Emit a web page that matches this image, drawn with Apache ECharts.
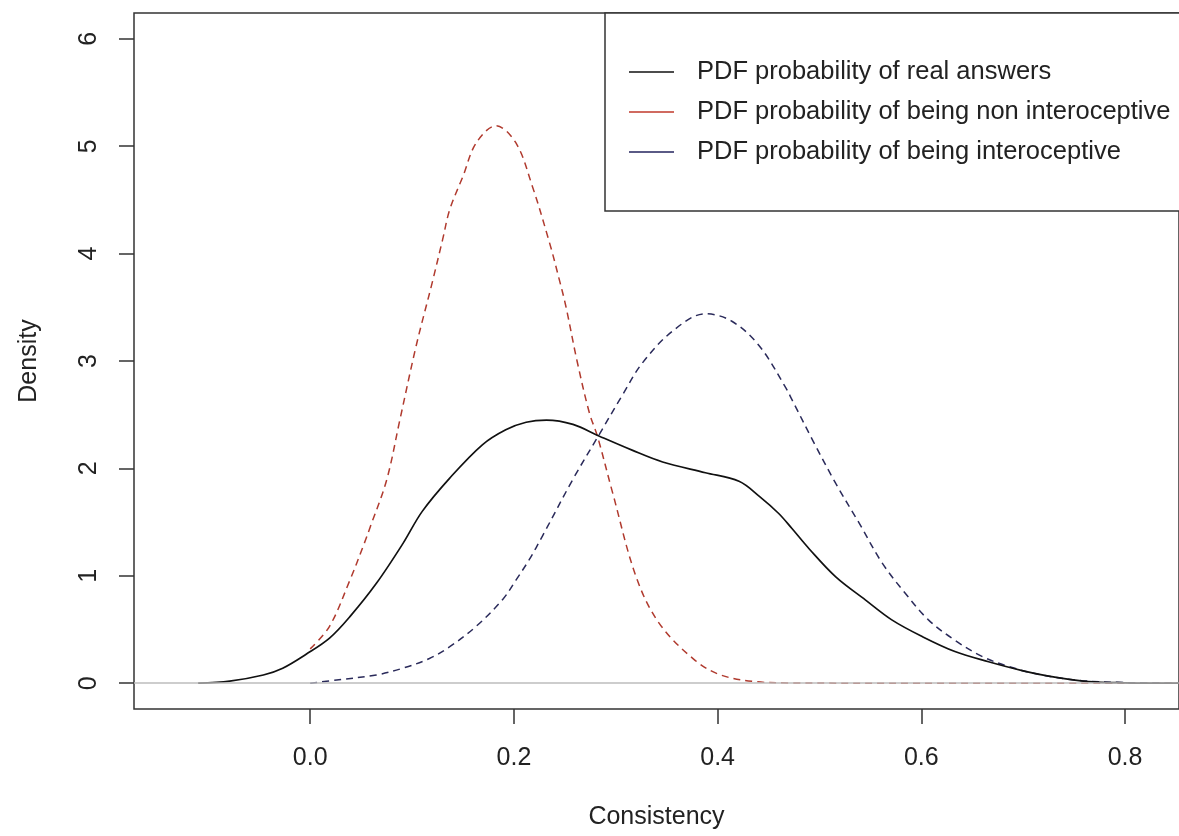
<!DOCTYPE html>
<html><head><meta charset="utf-8">
<script src="https://cdn.jsdelivr.net/npm/echarts@6/dist/echarts.min.js"></script>
<style>html,body{margin:0;padding:0;background:#fff}#c{width:1179px;height:836px}</style>
</head><body><div id="c"></div>
<script>
const seriesNames = [
  'PDF probability of real answers',
  'PDF probability of being non interoceptive',
  'PDF probability of being interoceptive'
];
const realX = [-0.110,-0.079,-0.046,-0.027,-0.004,0.019,0.039,0.065,0.091,0.110,0.137,0.169,0.192,0.212,0.232,0.258,0.284,0.316,0.346,0.388,0.421,0.441,0.460,0.473,0.490,0.516,0.545,0.571,0.601,0.633,0.666,0.699,0.731,0.764,0.800,0.853];
const realY = [0.0,0.02,0.077,0.14,0.27,0.42,0.62,0.93,1.30,1.60,1.91,2.22,2.36,2.43,2.45,2.41,2.30,2.17,2.06,1.96,1.88,1.74,1.58,1.44,1.25,0.99,0.776,0.59,0.434,0.295,0.20,0.118,0.056,0.015,0.004,0.0];
const nonX = [0.000,0.019,0.039,0.053,0.058,0.075,0.088,0.104,0.119,0.130,0.137,0.150,0.163,0.1825,0.202,0.218,0.235,0.2445,0.251,0.262,0.274,0.282,0.297,0.320,0.3425,0.377,0.403,0.437,0.470,0.600,0.853];
const nonY = [0.32,0.53,0.96,1.30,1.43,1.89,2.45,3.14,3.70,4.13,4.41,4.72,5.03,5.19,5.03,4.63,4.10,3.76,3.51,3.00,2.52,2.30,1.77,0.99,0.56,0.22,0.077,0.015,0.003,0.0,0.0];
const intX = [0.000,0.026,0.065,0.091,0.117,0.137,0.163,0.189,0.202,0.215,0.228,0.258,0.284,0.307,0.326,0.356,0.388,0.414,0.441,0.467,0.473,0.494,0.516,0.539,0.5615,0.584,0.607,0.633,0.6595,0.686,0.718,0.7575,0.800,0.853];
const intY = [0.0,0.03,0.077,0.14,0.23,0.34,0.53,0.78,0.96,1.15,1.37,1.90,2.32,2.69,2.98,3.28,3.44,3.37,3.14,2.75,2.64,2.25,1.86,1.49,1.12,0.84,0.59,0.40,0.25,0.155,0.077,0.024,0.006,0.0];
const xTicks = [0, 0.2, 0.4, 0.6, 0.8];
const yTicks = [0, 1, 2, 3, 4, 5, 6];

function pairs(xs, ys) { return xs.map((x, i) => [x, ys[i]]); }
const FONT = '"Liberation Sans", Arial, sans-serif';
const TXT = '#222';
const curveColors = ['#111111', '#b03a2e', '#2a2a5a'];
const legendColors = ['#111111', '#c0392b', '#23235e'];

const chart = echarts.init(document.getElementById('c'), null, {renderer: 'canvas'});
const option = {
  animation: false,
  backgroundColor: '#fff',
  grid: {left: 134, top: 13, width: 1046, height: 696, show: true, borderColor: '#333', borderWidth: 1.5, backgroundColor: 'transparent'},
  xAxis: {
    type: 'value', min: -0.173, max: 0.853,
    name: 'Consistency', nameLocation: 'middle', nameGap: 96,
    nameTextStyle: {fontFamily: FONT, fontSize: 25, color: TXT},
    axisLine: {show: false, onZero: false}, splitLine: {show: false},
    axisTick: {show: true, inside: false, length: 15, customValues: xTicks, lineStyle: {color: '#333', width: 1.5}},
    axisLabel: {customValues: xTicks, formatter: v => v.toFixed(1), margin: 37, fontFamily: FONT, fontSize: 25, color: TXT}
  },
  yAxis: {
    type: 'value', min: -0.24, max: 6.24,
    name: 'Density', nameLocation: 'middle', nameGap: 92, nameRotate: 90,
    nameTextStyle: {fontFamily: FONT, fontSize: 25, color: TXT},
    axisLine: {show: false, onZero: false}, splitLine: {show: false},
    axisTick: {show: true, inside: false, length: 15, customValues: yTicks, lineStyle: {color: '#333', width: 1.5}},
    axisLabel: {customValues: yTicks, rotate: 90, margin: 32, fontFamily: FONT, fontSize: 25, color: TXT}
  },
  legend: {
    orient: 'vertical', left: 605, top: 13,
    padding: [44, 40, 44, 24], itemGap: 10, itemWidth: 45, itemHeight: 1.6,
    borderColor: '#333', borderWidth: 1.5, borderRadius: 0, backgroundColor: '#fff',
    textStyle: {fontFamily: FONT, fontSize: 25.5, color: TXT, lineHeight: 30, padding: [0, 0, 0, 18]},
    data: seriesNames.map((n, i) => ({name: n, icon: 'rect', itemStyle: {color: legendColors[i], borderWidth: 0}}))
  },
  series: [
    {
      type: 'line', name: '_zero', data: [], z: 1, silent: true,
      markLine: {silent: true, symbol: 'none', label: {show: false}, lineStyle: {color: '#bdbdbd', type: 'solid', width: 1.5}, data: [{yAxis: 0}]}
    },
    {type: 'line', name: seriesNames[0], data: pairs(realX, realY), showSymbol: false, symbol: 'none', smooth: 0.35, z: 3,
      lineStyle: {color: curveColors[0], width: 1.7, type: 'solid'}, itemStyle: {color: curveColors[0]}},
    {type: 'line', name: seriesNames[1], data: pairs(nonX, nonY), showSymbol: false, symbol: 'none', smooth: 0.35, z: 2,
      lineStyle: {color: curveColors[1], width: 1.5, type: [7, 5]}, itemStyle: {color: curveColors[1]}},
    {type: 'line', name: seriesNames[2], data: pairs(intX, intY), showSymbol: false, symbol: 'none', smooth: 0.35, z: 2,
      lineStyle: {color: curveColors[2], width: 1.5, type: [7, 5]}, itemStyle: {color: curveColors[2]}}
  ]
};
chart.setOption(option);
</script>
</body></html>
